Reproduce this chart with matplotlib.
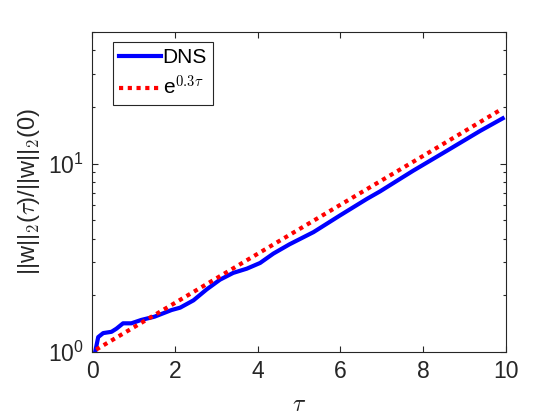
import numpy as np
import matplotlib.pyplot as plt
from matplotlib.ticker import LogLocator, NullFormatter

plt.rcParams['font.family'] = ['Liberation Sans', 'DejaVu Sans']
plt.rcParams['mathtext.fontset'] = 'cm'

# DNS: нормированная норма
tau_dns = [0.08, 0.15, 0.27, 0.47, 0.59, 0.75, 0.95, 1.19, 1.51, 1.92, 2.13,
           2.45, 2.77, 3.09, 3.41, 3.74, 4.06, 4.38, 4.77, 5.35, 5.99, 6.64,
           6.96, 7.44, 7.76, 8.57, 9.37, 9.92]
w_dns = [1.01, 1.20, 1.26, 1.28, 1.33, 1.42, 1.42, 1.48, 1.54, 1.67, 1.72,
         1.88, 2.15, 2.42, 2.63, 2.77, 2.97, 3.33, 3.73, 4.33, 5.31, 6.50,
         7.13, 8.30, 9.18, 11.7, 14.9, 17.4]

# опорная экспонента e^{0.3 tau}
tau_fit = [0.1, 2.0, 4.0, 6.0, 8.0, 9.9]
w_fit = [1.03, 1.82, 3.32, 6.05, 11.0, 19.5]

fig = plt.figure(figsize=(5.6, 4.2), dpi=100)
ax = fig.add_axes([0.1643, 0.1619, 0.7393, 0.7619])

ax.semilogy(tau_dns, w_dns, color='#0000ff', lw=3, label='DNS')
ax.semilogy(tau_fit, w_fit, color='#ff0000', lw=3, linestyle=(0, (1, 1.1)),
            label=r'e$^{\mathsf{0.3}\tau}$')

ax.set_xlim(0, 10)
ax.set_ylim(1, 50)
ax.set_xticks([0, 2, 4, 6, 8, 10])
ax.yaxis.set_minor_locator(LogLocator(base=10, subs=np.arange(2, 10)))
ax.yaxis.set_minor_formatter(NullFormatter())

ax.tick_params(which='both', direction='in', top=True, right=True,
               labelsize=16.5, colors='#262626', width=0.8)
ax.tick_params(which='major', length=4.5, pad=6)
ax.tick_params(which='minor', length=2.5)
for s in ax.spines.values():
    s.set_color('#262626')
    s.set_linewidth(0.8)

ax.set_xlabel(r'$\tau$', fontsize=17, color='#262626', labelpad=8)
ax.set_ylabel(r'||w||$_\mathsf{2}$($\tau$)/||w||$_\mathsf{2}$(0)',
              fontsize=17, color='#262626', labelpad=4)

leg = ax.legend(loc='upper left', bbox_to_anchor=(0.05, 0.968), fontsize=15,
                handlelength=2.0, handletextpad=0.1, borderpad=0.3,
                labelspacing=0.35, fancybox=False, framealpha=1,
                edgecolor='#262626', borderaxespad=0)
leg.get_frame().set_linewidth(0.8)

plt.savefig('out.png', dpi=100)
